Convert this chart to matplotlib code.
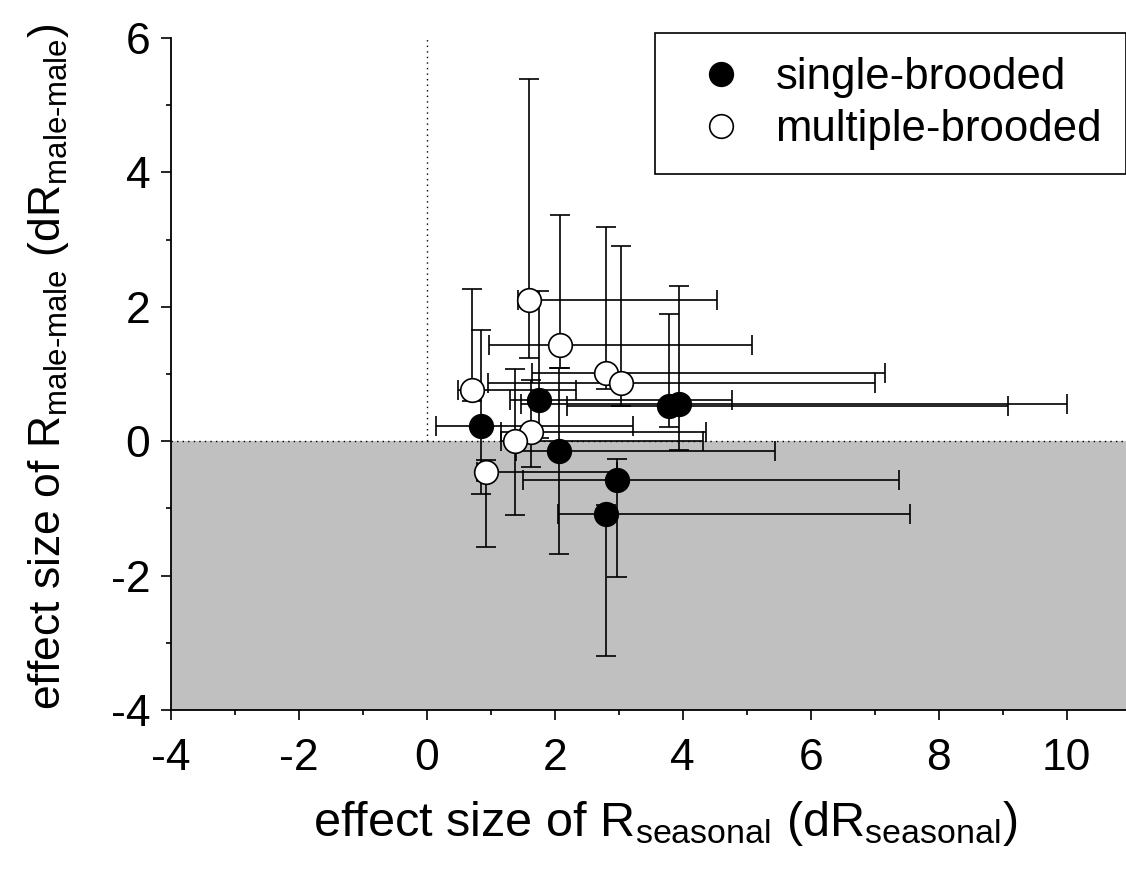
import matplotlib
matplotlib.use('Agg')
import matplotlib.pyplot as plt
from matplotlib.ticker import MultipleLocator
import numpy as np

plt.rcParams['font.family'] = ['Liberation Sans', 'DejaVu Sans']
plt.rcParams['mathtext.fontset'] = 'custom'
plt.rcParams['mathtext.rm'] = 'Liberation Sans'
plt.rcParams['mathtext.it'] = 'Liberation Sans'
plt.rcParams['axes.unicode_minus'] = False

# single-brooded (filled): estimate, CI lower / upper
single_x = [0.85, 1.75, 3.78, 3.94, 2.07, 2.97, 2.80]
single_y = [0.23, 0.61, 0.53, 0.55, -0.14, -0.57, -1.08]
single_xlo = [0.15, 1.30, 2.19, 1.47, 1.40, 1.50, 2.05]
single_xhi = [3.22, 4.77, 9.09, 10.00, 5.45, 7.38, 7.55]
single_ylo = [-0.78, 0.05, 0.21, -0.13, -1.68, -2.02, -3.19]
single_yhi = [1.66, 2.24, 1.90, 2.31, 1.09, -0.27, -0.95]

# multiple-brooded (open)
multi_x = [1.59, 2.08, 2.80, 3.03, 0.71, 1.63, 1.38, 0.93]
multi_y = [2.10, 1.43, 1.01, 0.87, 0.76, 0.14, 0.00, -0.46]
multi_xlo = [1.42, 0.97, 1.64, 0.95, 0.49, 1.16, 1.16, 0.78]
multi_xhi = [4.53, 5.09, 7.17, 7.01, 2.33, 4.37, 4.31, 2.97]
multi_ylo = [1.245, 1.09, 0.78, 0.52, 0.60, -0.39, -1.10, -1.57]
multi_yhi = [5.39, 3.36, 3.19, 2.90, 2.26, 0.91, 1.08, -0.28]

W, H = 1126, 880
fig = plt.figure(figsize=(W / 100, H / 100), dpi=100)
ax = fig.add_axes([171 / W, 1 - 710 / H, 1 - 171 / W, (710 - 38) / H])

xmax = 10.93
ax.set_xlim(-4, xmax)
ax.set_ylim(-4, 6)

# shaded negative region and reference lines
ax.fill_between([-4, xmax], -4, 0, color='#c0c0c0', lw=0, zorder=0)
ax.plot([-4, xmax], [0, 0], ls=(0, (1, 3)), color='black', lw=1, zorder=1)
ax.plot([0, 0], [0, 6], ls=(0, (1, 3)), color='black', lw=1, zorder=1)


def draw(xs, ys, xlo, xhi, ylo, yhi):
    xs = np.array(xs); ys = np.array(ys)
    xerr = [xs - np.array(xlo), np.array(xhi) - xs]
    yerr = [ys - np.array(ylo), np.array(yhi) - ys]
    ax.errorbar(xs, ys, xerr=xerr, yerr=yerr, fmt='none', ecolor='black',
                elinewidth=1.2, capsize=7, capthick=1.2, zorder=2)


draw(single_x, single_y, single_xlo, single_xhi, single_ylo, single_yhi)
draw(multi_x, multi_y, multi_xlo, multi_xhi, multi_ylo, multi_yhi)

h1, = ax.plot(single_x, single_y, 'o', ms=17, mfc='black', mec='black',
              mew=1.2, zorder=3, label='single-brooded')
h2, = ax.plot(multi_x, multi_y, 'o', ms=17, mfc='white', mec='black',
              mew=1.2, zorder=3, label='multiple-brooded')

for s in ['top', 'right']:
    ax.spines[s].set_visible(False)
for s in ['left', 'bottom']:
    ax.spines[s].set_linewidth(1.3)

ax.xaxis.set_major_locator(MultipleLocator(2))
ax.xaxis.set_minor_locator(MultipleLocator(1))
ax.yaxis.set_major_locator(MultipleLocator(2))
ax.yaxis.set_minor_locator(MultipleLocator(1))
ax.tick_params(which='major', direction='out', length=7, width=1.2, labelsize=32)
ax.tick_params(which='minor', direction='out', length=3.6, width=1.2)
ax.tick_params(axis='y', pad=8)
ax.tick_params(axis='x', pad=13)

ax.set_xlabel(r'effect size of R$_{\mathrm{seasonal}}$ (dR$_{\mathrm{seasonal}}$)',
              fontsize=35)
ax.set_ylabel(r'effect size of R$_{\mathrm{male\text{-}male}}$ (dR$_{\mathrm{male\text{-}male}}$)',
              fontsize=32)
ax.xaxis.set_label_coords(0.518, -0.132)
ax.yaxis.set_label_coords(-0.105, 0.51)

leg = ax.legend(handles=[h1, h2], loc='upper left', fontsize=31.5,
                bbox_to_anchor=(655 / W, 1 - 33 / H), bbox_transform=fig.transFigure,
                borderaxespad=0, borderpad=0.55, handlelength=1.9,
                handletextpad=0.3, labelspacing=0.25, fancybox=False,
                framealpha=1, edgecolor='black')
leg.get_frame().set_linewidth(1.2)

fig.savefig('out.png', dpi=100)
